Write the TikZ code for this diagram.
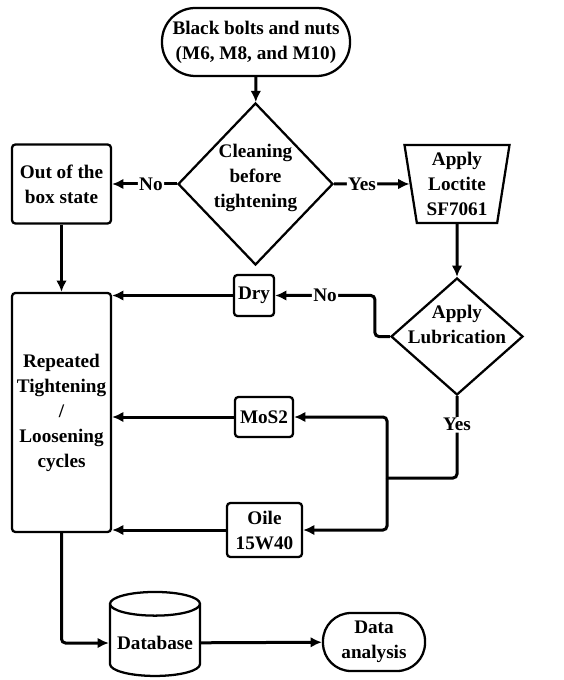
\documentclass[tikz,border=0pt]{standalone}
\usepackage{fontspec}
\setmainfont{Liberation Serif}
\usetikzlibrary{shapes.geometric,arrows.meta}

\tikzset{every picture/.style={line width=0.75pt}}
\tikzset{
  flowtext/.style={font=\bfseries\fontsize{14.4}{18.75}\selectfont, align=center},
  procbox/.style={flowtext, draw, line width=1.7pt, rounded corners=2.5pt, inner sep=1pt},
  termbox/.style={flowtext, draw, line width=1.7pt, inner sep=1pt},
  decbox/.style={draw, diamond, line width=1.7pt, inner sep=0pt},
  flowline/.style={line width=2.25pt, rounded corners=3pt},
  flowarrow/.style={flowline, -{Latex[length=8.5pt,width=8pt]}},
  flowlabel/.style={flowtext, fill=white, inner sep=1pt},
}

\begin{document}
\begin{tikzpicture}[x=0.75pt,y=0.75pt,yscale=-1,xscale=1]
	\path[use as bounding box] (0,0) rectangle (563,680);
	
	%Terminal: start
	\node[termbox, rounded corners=25pt, minimum width=141pt, minimum height=51pt] (bolts) at (256,42) {Black bolts and nuts\\(M6, M8, and M10)};
	%Decision: cleaning
	\node[decbox, minimum width=116.25pt, minimum height=121.5pt] (clean) at (255.5,184) {};
	\node[flowtext] (cleantext) at (255.5,178) {Cleaning\\before\\tightening};
	%Process: out of the box
	\node[procbox, minimum width=74.25pt, minimum height=59.25pt] (outbox) at (61.5,184) {Out of the\\box state};
	%Manual operation: loctite
	\node[flowtext, draw, line width=1.7pt, trapezium, shape border rotate=180, trapezium left angle=79, trapezium right angle=79, trapezium stretches body, minimum width=78.75pt, minimum height=58.5pt, inner sep=0pt] (loctite) at (457,184) {Apply\\Loctite\\SF7061};
	%Decision: lubrication
	\node[decbox, minimum width=99pt, minimum height=87.75pt] (lub) at (457,336.5) {};
	\node[flowtext] (lubtext) at (457,324) {Apply\\Lubrication};
	%Process: lubricants
	\node[procbox, minimum width=30pt, minimum height=30.75pt] (dry) at (254,295.5) {Dry};
	\node[procbox, minimum width=43.5pt, minimum height=30pt] (mos2) at (264,417) {MoS2};
	\node[procbox, minimum width=56.25pt, minimum height=40.5pt] (oile) at (264.5,530) {Oile\\15W40};
	%Process: cycles
	\node[procbox, minimum width=74.25pt, minimum height=179.25pt] (rep) at (61.5,412.5) {Repeated\\Tightening\\/\\Loosening\\cycles};
	%Storage: database
	\node[flowtext, draw, line width=1.7pt, cylinder, shape border rotate=90, aspect=0.28, minimum width=67.5pt, minimum height=63pt] (db) at (155,643) {Database};
	%Terminal: analysis
	\node[termbox, rounded corners=21pt, minimum width=76.5pt, minimum height=43.5pt] (ana) at (374,642) {Data\\analysis};
	
	%Connectors
	\draw[flowarrow] (bolts) -- (clean);
	\draw[flowarrow] (clean) -- node[flowlabel, pos=0.4] {No} (outbox);
	\draw[flowarrow] (clean) -- node[flowlabel, pos=0.37] {Yes} (loctite);
	\draw[flowarrow] (loctite) -- (lub);
	\draw[flowarrow] (lub.west) -- ++(-15,0) |- node[flowlabel, pos=0.75] {No} (dry.east);
	\draw[flowarrow] (dry.west) -- (dry.west -| rep.east);
	\draw[flowarrow] (outbox) -- (rep);
	\coordinate (split) at (387,478);
	\draw[flowline] (lub.south) -- node[flowlabel, pos=0.35] {Yes} (lub.south |- split) -- (split);
	\draw[flowarrow] (split) |- (mos2.east);
	\draw[flowarrow] (split) |- (oile.east);
	\draw[flowarrow] (mos2.west) -- (mos2.west -| rep.east);
	\draw[flowarrow] (oile.west) -- (oile.west -| rep.east);
	\draw[flowarrow] (rep.south) |- (db.west);
	\draw[flowarrow] (db) -- (ana);
	
\end{tikzpicture}
\end{document}
